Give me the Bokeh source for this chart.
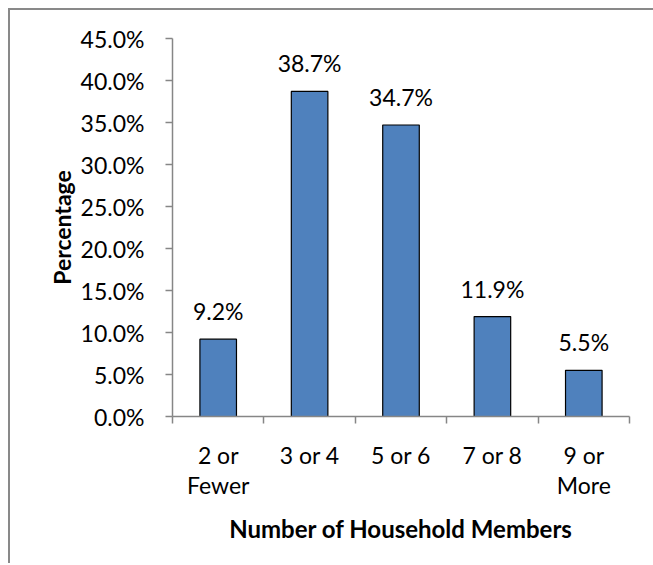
from bokeh.plotting import figure
from bokeh.models import ColumnDataSource, FixedTicker, PrintfTickFormatter, Range1d
from bokeh.core.properties import value
from bokeh.embed import file_html
from bokeh.resources import INLINE

categories = ["2 or\nFewer", "3 or 4", "5 or 6", "7 or 8", "9 or\nMore"]
percentages = [9.2, 38.7, 34.7, 11.9, 5.5]
y_ticks = [0, 5, 10, 15, 20, 25, 30, 35, 40, 45]

FONT = "Lato"
FS = "23px"
xs = [i + 0.5 for i in range(len(categories))]
labels = [f"{v:.1f}%" for v in percentages]
src = ColumnDataSource(dict(x=xs, top=percentages, label=labels))

p = figure(frame_width=457, frame_height=378,
           min_border_left=162, min_border_top=28, min_border_right=24, min_border_bottom=147,
           x_range=Range1d(0, len(categories)), y_range=Range1d(0, 45),
           output_backend="svg", toolbar_location=None, tools="")
p.styles = {"border-left": "2px solid #898989", "border-top": "2px solid #898989",
            "margin-left": "8px", "margin-top": "8px"}

p.vbar(x="x", top="top", width=0.4, bottom=0, source=src,
       fill_color="#4F81BD", line_color="#000000", line_width=1.2)
p.text(x="x", y="top", text="label", source=src, text_align="center",
       text_baseline="bottom", y_offset=-14, text_font=value(FONT),
       text_font_size=FS, text_color="#000000")

p.xgrid.visible = False
p.ygrid.visible = False
p.outline_line_color = None
p.background_fill_color = "white"
p.border_fill_color = "white"

# y axis
p.yaxis.ticker = FixedTicker(ticks=y_ticks)
p.yaxis.formatter = PrintfTickFormatter(format="%.1f%%")
p.yaxis.axis_label = "Percentage"
p.yaxis.axis_label_text_font = FONT
p.yaxis.axis_label_text_font_style = "bold"
p.yaxis.axis_label_text_font_size = FS
p.yaxis.axis_label_text_color = "#000000"
p.yaxis.axis_label_standoff = 2
p.yaxis.major_label_text_font = FONT
p.yaxis.major_label_text_font_size = FS
p.yaxis.major_label_text_color = "#000000"
p.yaxis.major_label_standoff = 21
p.yaxis.axis_line_color = "#868686"
p.yaxis.axis_line_width = 1.5
p.yaxis.major_tick_line_color = "#868686"
p.yaxis.major_tick_line_width = 1.5
p.yaxis.major_tick_out = 7
p.yaxis.major_tick_in = 0
p.yaxis.minor_tick_line_color = None

# x axis
p.xaxis.ticker = FixedTicker(ticks=xs, minor_ticks=list(range(len(categories) + 1)))
p.xaxis.major_label_overrides = {x: c for x, c in zip(xs, categories)}
p.xaxis.axis_label = "Number of Household Members"
p.xaxis.axis_label_text_font = FONT
p.xaxis.axis_label_text_font_style = "bold"
p.xaxis.axis_label_text_font_size = "24px"
p.xaxis.axis_label_text_color = "#000000"
p.xaxis.axis_label_standoff = 12
p.xaxis.major_label_text_font = FONT
p.xaxis.major_label_text_font_size = FS
p.xaxis.major_label_text_line_height = 1.1
p.xaxis.major_label_text_color = "#000000"
p.xaxis.major_label_standoff = 17
p.xaxis.axis_line_color = "#868686"
p.xaxis.axis_line_width = 1.5
p.xaxis.major_tick_line_color = None
p.xaxis.minor_tick_line_color = "#868686"
p.xaxis.minor_tick_line_width = 1.5
p.xaxis.minor_tick_out = 7
p.xaxis.minor_tick_in = 0

open("out.html", "w").write(file_html(p, INLINE))
